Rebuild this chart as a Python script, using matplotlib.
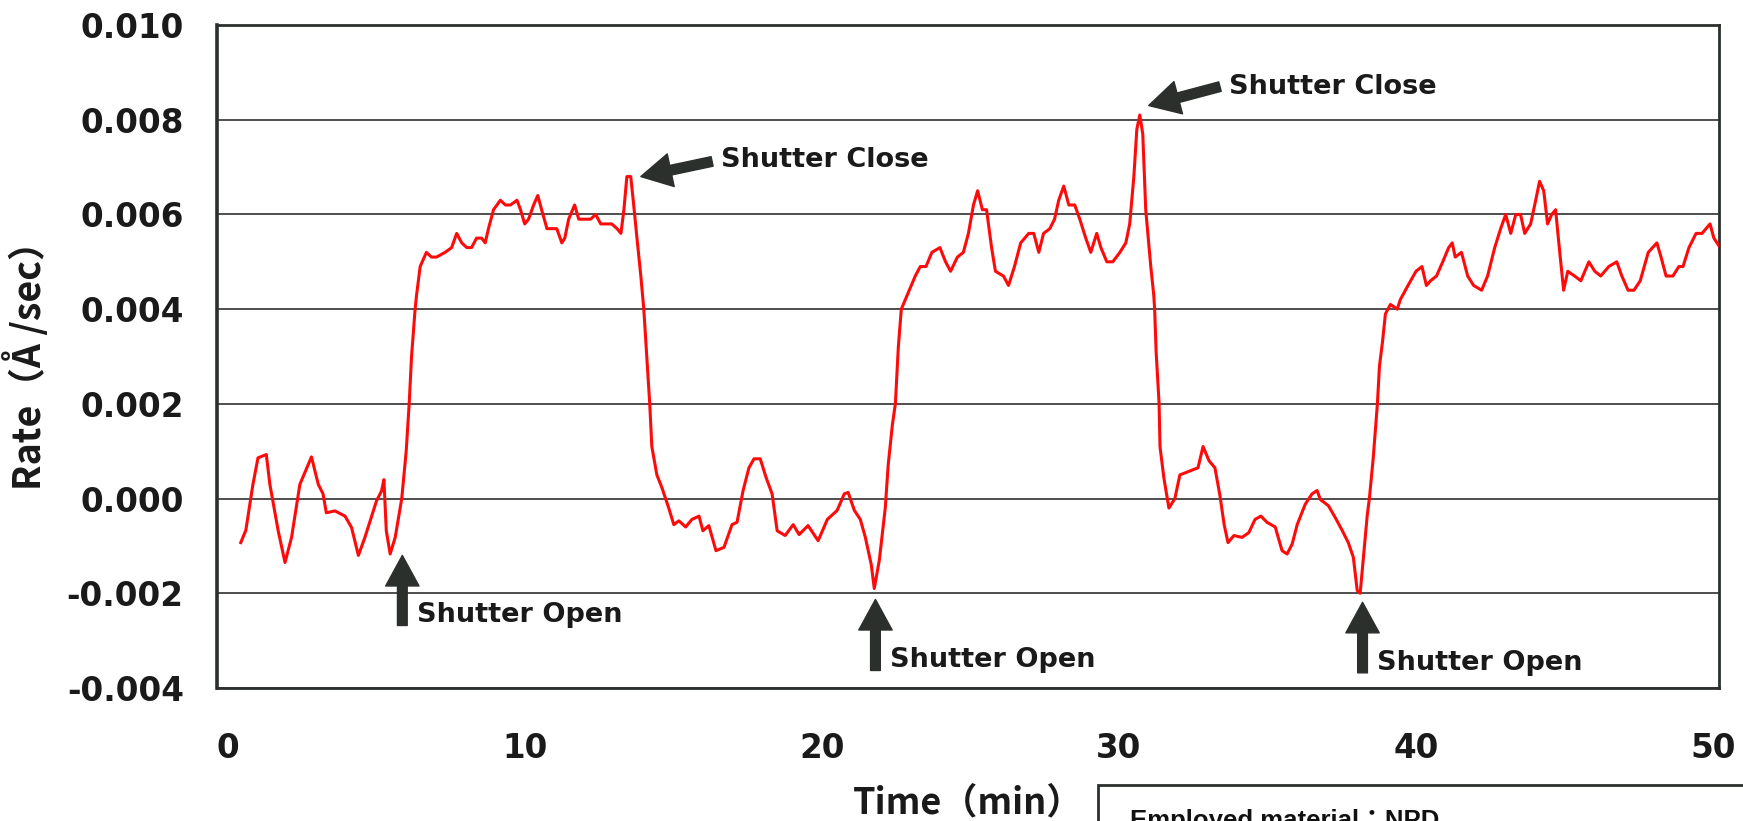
import numpy as np
import matplotlib
matplotlib.use('Agg')
import matplotlib.pyplot as plt
import matplotlib.patches as mpatches
from matplotlib.ticker import FormatStrFormatter

# Время (мин) и скорость (Å/sec)
time_min = [
    0.43, 0.60, 0.84, 1.01, 1.29, 1.41, 1.69, 1.92, 2.14, 2.42, 2.81, 3.04, 3.20, 3.31,
    3.60, 3.94, 4.16, 4.39, 4.61, 5.00, 5.17, 5.25, 5.33, 5.46, 5.63, 5.85, 6.00, 6.10,
    6.18, 6.30, 6.35, 6.47, 6.68, 6.85, 7.02, 7.31, 7.53, 7.70, 7.87, 8.04, 8.20, 8.37,
    8.54, 8.66, 8.77, 8.94, 9.17, 9.34, 9.51, 9.73, 9.85, 9.99, 10.12, 10.29, 10.43,
    10.56, 10.74, 10.90, 11.07, 11.24, 11.34, 11.47, 11.67, 11.81, 12.04, 12.21, 12.38,
    12.55, 12.72, 12.92, 13.10, 13.23, 13.33, 13.43, 13.56, 13.66, 13.77, 13.90, 14.00,
    14.10, 14.20, 14.27, 14.44, 14.61, 14.84, 15.01, 15.18, 15.41, 15.62, 15.86, 15.99,
    16.19, 16.43, 16.70, 16.97, 17.14, 17.34, 17.54, 17.71, 17.92, 18.12, 18.32, 18.49,
    18.76, 19.03, 19.23, 19.53, 19.87, 20.18, 20.51, 20.75, 20.88, 21.09, 21.29, 21.46,
    21.66, 21.76, 21.93, 22.13, 22.23, 22.37, 22.47, 22.57, 22.67, 22.87, 23.14, 23.31,
    23.50, 23.70, 23.97, 24.16, 24.33, 24.56, 24.76, 24.93, 25.10, 25.24, 25.40, 25.54,
    25.71, 25.84, 26.11, 26.28, 26.48, 26.69, 26.96, 27.13, 27.30, 27.46, 27.67, 27.83,
    27.97, 28.14, 28.31, 28.51, 28.68, 28.88, 29.05, 29.25, 29.39, 29.59, 29.79, 30.03,
    30.23, 30.36, 30.50, 30.60, 30.70, 30.80, 30.90, 31.07, 31.17, 31.20, 31.25, 31.35,
    31.38, 31.51, 31.68, 31.88, 32.05, 32.25, 32.46, 32.66, 32.83, 33.03, 33.23, 33.40,
    33.54, 33.67, 33.87, 34.14, 34.37, 34.58, 34.78, 34.98, 35.26, 35.49, 35.66, 35.83,
    36.00, 36.27, 36.50, 36.67, 36.78, 37.05, 37.28, 37.52, 37.72, 37.89, 38.02, 38.12,
    38.23, 38.36, 38.43, 38.56, 38.70, 38.77, 38.87, 38.97, 39.14, 39.37, 39.47, 39.73,
    40.00, 40.20, 40.35, 40.49, 40.69, 40.90, 41.10, 41.22, 41.32, 41.53, 41.74, 41.94,
    42.21, 42.41, 42.65, 42.85, 43.02, 43.19, 43.36, 43.52, 43.66, 43.86, 44.03, 44.16,
    44.30, 44.43, 44.57, 44.70, 44.84, 44.97, 45.11, 45.34, 45.55, 45.82, 46.02, 46.22,
    46.49, 46.76, 46.93, 47.14, 47.34, 47.55, 47.82, 48.11, 48.25, 48.42, 48.65, 48.85,
    48.99, 49.19, 49.43, 49.63, 49.90, 50.03, 50.24]

rate = [
    -0.00093, -0.00067, 0.0003, 0.00086, 0.00093, 0.0003, -0.00068, -0.00135, -0.00082,
    0.0003, 0.00088, 0.0003, 0.0001, -0.0003, -0.00026, -0.00037, -0.00061, -0.0012,
    -0.00082, -0.00005, 0.00016, 0.0004, -0.00068, -0.00117, -0.00082, 0.0, 0.001, 0.002,
    0.003, 0.004, 0.0043, 0.0049, 0.0052, 0.0051, 0.0051, 0.0052, 0.0053, 0.0056, 0.0054,
    0.0053, 0.0053, 0.0055, 0.0055, 0.0054, 0.0057, 0.0061, 0.0063, 0.0062, 0.0062, 0.0063,
    0.0061, 0.0058, 0.0059, 0.0062, 0.0064, 0.0061, 0.0057, 0.0057, 0.0057, 0.0054, 0.0055,
    0.0059, 0.0062, 0.0059, 0.0059, 0.0059, 0.0060, 0.0058, 0.0058, 0.0058, 0.0057, 0.0056,
    0.0061, 0.0068, 0.0068, 0.0062, 0.0055, 0.0047, 0.004, 0.003, 0.002, 0.0011, 0.0005,
    0.00023, -0.0002, -0.00055, -0.00047, -0.0006, -0.00044, -0.00037, -0.00068, -0.00057,
    -0.0011, -0.00103, -0.00055, -0.0005, 0.00016, 0.00065, 0.00084, 0.00084, 0.00044,
    0.0001, -0.00068, -0.00078, -0.00055, -0.00076, -0.00057, -0.00089, -0.00044, -0.00025,
    0.0001, 0.00013, -0.00025, -0.00044, -0.00082, -0.0014, -0.0019, -0.0013, -0.0002,
    0.00072, 0.00156, 0.002, 0.0032, 0.004, 0.0043, 0.0047, 0.0049, 0.0049, 0.0052, 0.0053,
    0.0050, 0.0048, 0.0051, 0.0052, 0.0056, 0.0062, 0.0065, 0.0061, 0.0061, 0.0053, 0.0048,
    0.0047, 0.0045, 0.0049, 0.0054, 0.0056, 0.0056, 0.0052, 0.0056, 0.0057, 0.0059, 0.0063,
    0.0066, 0.0062, 0.0062, 0.0059, 0.0055, 0.0052, 0.0056, 0.0053, 0.0050, 0.0050, 0.0052,
    0.0054, 0.0058, 0.0068, 0.0078, 0.0081, 0.0077, 0.0061, 0.0049, 0.0043, 0.004, 0.0031,
    0.002, 0.0011, 0.00044, -0.0002, 0.0, 0.0005, 0.00055, 0.0006, 0.00065, 0.0011, 0.0008,
    0.00065, 0.00006, -0.00055, -0.00093, -0.00078, -0.00082, -0.00072, -0.00044, -0.00037,
    -0.0005, -0.0006, -0.0011, -0.00117, -0.00096, -0.00055, -0.00012, 0.0001, 0.00017,
    -0.00002, -0.00015, -0.0004, -0.00068, -0.00093, -0.00124, -0.00194, -0.0020, -0.00124,
    -0.00034, 0.0, 0.00086, 0.002, 0.0028, 0.0033, 0.0039, 0.0041, 0.0040, 0.0042, 0.0045,
    0.0048, 0.0049, 0.0045, 0.0046, 0.0047, 0.0050, 0.0053, 0.0054, 0.0051, 0.0052, 0.0047,
    0.0045, 0.0044, 0.0047, 0.0053, 0.0057, 0.0060, 0.0056, 0.0060, 0.0060, 0.0056, 0.0058,
    0.0063, 0.0067, 0.0065, 0.0058, 0.0060, 0.0061, 0.0052, 0.0044, 0.0048, 0.0047, 0.0046,
    0.0050, 0.0048, 0.0047, 0.0049, 0.0050, 0.0047, 0.0044, 0.0044, 0.0046, 0.0052, 0.0054,
    0.0051, 0.0047, 0.0047, 0.0049, 0.0049, 0.0053, 0.0056, 0.0056, 0.0058, 0.0055, 0.0053]

x_ticks = [0, 10, 20, 30, 40, 50]
y_ticks = [-0.004, -0.002, 0.000, 0.002, 0.004, 0.006, 0.008, 0.010]

# Подписи стрелок: (текст, острие, хвост, позиция текста)
close_notes = [
    ('Shutter Close', (13.9, 0.0068), (16.3, 0.00712), (16.6, 0.00714)),
    ('Shutter Close', (31.0, 0.0083), (33.4, 0.0087), (33.7, 0.0087)),
]
open_notes = [
    ('Shutter Open', (5.87, -0.0012), (5.87, -0.00268), (6.35, -0.00245)),
    ('Shutter Open', (21.8, -0.00213), (21.8, -0.00363), (22.3, -0.0034)),
    ('Shutter Open', (38.2, -0.00219), (38.2, -0.00368), (38.7, -0.00347)),
]

DARK = '#2b302d'


def draw_notes(ax, notes):
    """ Толстые стрелки и подписи к ним """
    for text, tip, tail, pos in notes:
        ax.annotate('', xy=tip, xytext=tail,
                    arrowprops=dict(width=7, headwidth=24, headlength=22,
                                    facecolor=DARK, edgecolor=DARK, shrink=0))
        ax.text(pos[0], pos[1], text, fontsize=19.5, fontweight='bold',
                family='DejaVu Sans', color='#1a1a1a', va='center', ha='left')


def main():
    plt.rcParams['axes.unicode_minus'] = False
    fig = plt.figure(figsize=(17.43, 8.21), dpi=100)
    ax = fig.add_axes([0.1245, 0.162, 0.8617, 0.8075])

    ax.set_xlim(-0.37, 50.2)
    ax.set_ylim(-0.004, 0.010)
    ax.set_yticks(y_ticks)
    ax.set_xticks(x_ticks)
    ax.yaxis.set_major_formatter(FormatStrFormatter('%.3f'))
    ax.grid(axis='y', color='#1e1e1e', linewidth=1.1)
    ax.set_axisbelow(True)

    for s in ax.spines.values():
        s.set_color(DARK)
        s.set_linewidth(2.0)
    ax.spines['left'].set_linewidth(2.6)

    ax.tick_params(axis='both', length=0, labelsize=23.5, colors='#1a1a1a')
    ax.tick_params(axis='y', pad=24)
    ax.tick_params(axis='x', pad=32)
    for lab in ax.get_xticklabels() + ax.get_yticklabels():
        lab.set_fontweight('bold')

    ax.plot(time_min, rate, color='#ff0a0a', linewidth=2.2, zorder=3)

    draw_notes(ax, close_notes)
    draw_notes(ax, open_notes)

    cjk = ['Noto Sans CJK JP', 'DejaVu Sans']
    ax.set_xlabel('Time（min）', fontsize=26, fontweight='bold', family=cjk, color='#1a1a1a')
    ax.xaxis.set_label_coords(0.5, -0.145)
    ax.set_ylabel('Rate（Å /sec）', fontsize=27, fontweight='bold', family=cjk, color='#1a1a1a')
    ax.yaxis.set_label_coords(-0.112, 0.5)

    # Рамка с подписью материала внизу справа (обрезана краем)
    box = mpatches.Rectangle((1098 / 1743, -0.1), 0.5, 0.1438, transform=fig.transFigure,
                             fill=False, edgecolor=DARK, linewidth=2, clip_on=False)
    fig.patches.append(box)
    fig.text(1130 / 1743, -0.009, 'Employed material：NPD', fontsize=18.5, fontweight='bold',
             family=['Liberation Sans', 'Noto Sans CJK JP'], color='#111111', va='baseline')

    fig.savefig('out.png', dpi=100)
    plt.close(fig)


if __name__ == "__main__":
    main()
